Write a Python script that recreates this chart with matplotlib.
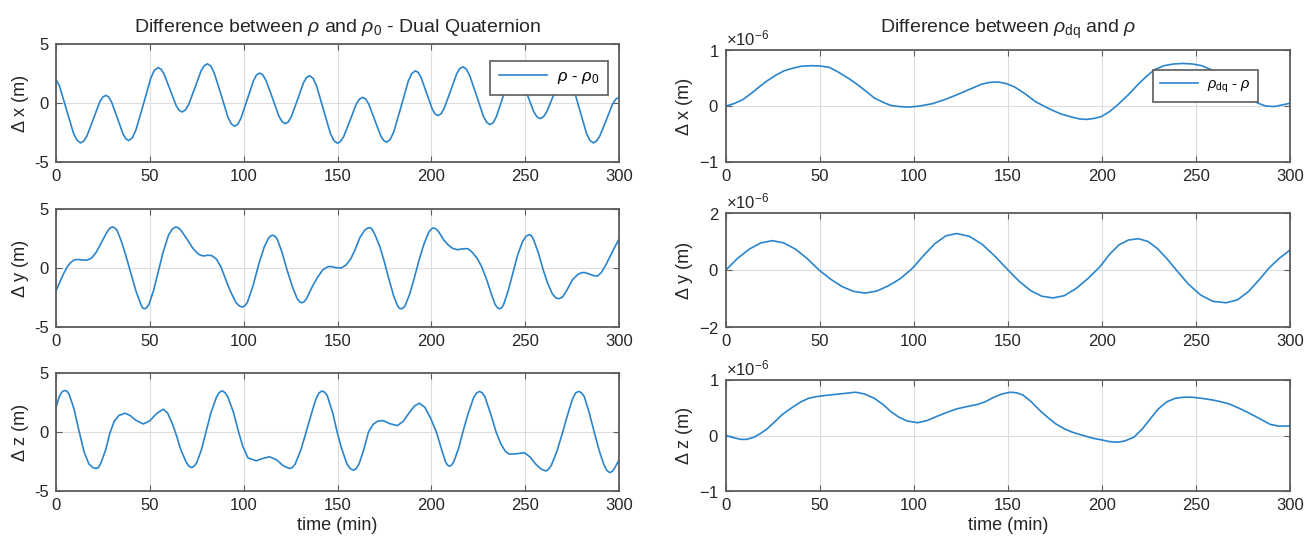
import matplotlib
matplotlib.use("Agg")
import matplotlib.pyplot as plt
import numpy as np
from matplotlib.ticker import ScalarFormatter

plt.rcParams.update({
    "font.family": ["Liberation Sans", "DejaVu Sans"],
    "mathtext.fontset": "custom",
    "mathtext.rm": "Liberation Sans",
    "mathtext.it": "Liberation Sans:italic",
    "axes.unicode_minus": False,
})

# ---- left column: rho - rho0 (m), (time min, value) ----
DX_PTS = [(0, 2.0), (1.8, 1.47), (5.5, -0.5), (9.3, -2.55), (11.2, -3.16), (13.1, -3.38), (14.8, -3.23),
          (16.5, -2.79), (19.9, -1.37), (23.2, 0.06), (24.9, 0.50), (26.6, 0.65), (28.1, 0.50), (29.6, 0.09),
          (32.7, -1.27), (35.7, -2.62), (37.2, -3.03), (38.7, -3.18), (40.7, -2.95), (42.6, -2.28),
          (46.6, -0.09), (50.5, 2.10), (52.4, 2.77), (54.4, 3.0), (56.0, 2.86), (57.6, 2.45), (60.8, 1.12),
          (64.0, -0.21), (65.6, -0.62), (67.2, -0.76), (68.9, -0.6), (70.6, -0.16), (74.0, 1.28), (77.3, 2.72),
          (79.0, 3.16), (80.7, 3.32), (82.5, 3.12), (84.3, 2.55), (88.0, 0.68), (91.6, -1.2), (93.4, -1.77),
          (95.2, -1.97), (96.9, -1.8), (98.5, -1.31), (101.9, 0.29), (105.2, 1.88), (106.8, 2.37),
          (108.5, 2.54), (110.2, 2.38), (111.9, 1.91), (115.4, 0.40), (118.8, -1.12), (120.5, -1.59),
          (122.2, -1.75), (123.8, -1.6), (125.4, -1.16), (128.7, 0.28), (131.9, 1.72), (133.5, 2.16),
          (135.1, 2.31), (137.0, 2.09), (138.8, 1.47), (142.5, -0.55), (146.2, -2.57), (148.1, -3.19),
          (149.9, -3.41), (151.6, -3.26), (153.3, -2.84), (156.7, -1.47), (160.0, -0.09), (161.7, 0.33),
          (163.4, 0.48), (165.0, 0.34), (166.6, -0.07), (169.8, -1.42), (173.0, -2.77), (174.6, -3.18),
          (176.2, -3.32), (178.1, -3.09), (180.0, -2.44), (183.9, -0.30), (187.7, 1.85), (189.6, 2.5),
          (191.5, 2.73), (193.0, 2.59), (194.5, 2.18), (197.5, 0.83), (200.5, -0.52), (202.0, -0.93),
          (203.5, -1.07), (205.2, -0.91), (206.8, -0.47), (210.2, 1.0), (213.5, 2.47), (215.1, 2.91),
          (216.8, 3.07), (218.6, 2.88), (220.4, 2.35), (224.1, 0.62), (227.7, -1.11), (229.5, -1.64),
          (231.3, -1.83), (233.0, -1.66), (234.6, -1.18), (237.9, 0.39), (241.2, 1.95), (242.9, 2.43),
          (244.5, 2.6), (246.2, 2.45), (247.9, 2.03), (251.3, 0.64), (254.6, -0.75), (256.3, -1.17),
          (258.0, -1.32), (259.7, -1.18), (261.4, -0.78), (264.8, 0.54), (268.1, 1.86), (269.8, 2.26),
          (271.5, 2.4), (273.4, 2.18), (275.2, 1.56), (278.9, -0.49), (282.6, -2.54), (284.5, -3.16),
          (286.3, -3.38), (288.0, -3.23), (289.7, -2.82), (293.2, -1.45), (296.6, -0.08), (298.3, 0.33),
          (300, 0.48)]

DY_PTS = [(0, -1.95), (2, -1.2), (4, -0.5), (6, 0.1), (8, 0.5), (10, 0.7), (12, 0.72), (14, 0.68), (16.5, 0.66),
          (19, 0.85), (21.5, 1.35), (24.3, 2.2), (27, 3.0), (28.5, 3.35), (30, 3.48), (31.3, 3.4), (32.5, 3.2),
          (35, 2.2), (37.5, 0.9), (40, -0.5), (42.5, -1.9), (45, -3.0), (46, -3.35), (47, -3.46), (48.2, -3.38),
          (49.5, -3.1), (52, -1.9), (54.5, -0.3), (57, 1.3), (60, 2.8), (62, 3.3), (63.8, 3.48), (65.5, 3.38),
          (67, 3.1), (70, 2.4), (73, 1.65), (76, 1.15), (78.5, 1.02), (81, 1.08), (83, 1.05), (85.5, 0.75),
          (88, 0.05), (90.5, -1.0), (93, -2.0), (96, -2.95), (97.7, -3.22), (99.3, -3.31), (100.7, -3.2),
          (102, -2.9), (105, -1.5), (108, 0.3), (111, 1.8), (113.5, 2.6), (114.6, 2.73), (115.6, 2.78),
          (116.8, 2.67), (118, 2.4), (120.5, 1.3), (123, -0.1), (126, -1.6), (128.5, -2.6), (129.8, -2.86),
          (131, -2.95), (132.2, -2.86), (133.5, -2.6), (136.5, -1.6), (139.5, -0.75), (142.2, -0.15),
          (145, 0.12), (147, 0.12), (149, 0.03), (152, 0.0), (154.5, 0.25), (157, 0.75), (159.5, 1.6),
          (162, 2.6), (164.5, 3.2), (166, 3.38), (167.3, 3.43), (168.6, 3.25), (170, 2.8), (172.6, 1.8),
          (175, 0.5), (177.5, -1.0), (180, -2.4), (182, -3.2), (182.9, -3.4), (183.8, -3.46), (184.9, -3.4),
          (186, -3.2), (188.5, -2.2), (191, -0.8), (193.5, 0.7), (196, 2.0), (198.5, 3.0), (199.9, 3.3),
          (201.2, 3.4), (202.6, 3.3), (204, 3.05), (206.5, 2.4), (209, 1.95), (211.5, 1.65), (214, 1.55),
          (216.5, 1.62), (219.5, 1.64), (222, 1.3), (224.5, 0.8), (227, 0.05), (229.5, -1.0), (232, -2.2),
          (234, -3.1), (235.2, -3.36), (236.4, -3.46), (237.5, -3.37), (238.5, -3.1), (241, -1.9),
          (243.5, -0.4), (246, 1.1), (248.5, 2.2), (250.5, 2.7), (252.3, 2.83), (253.4, 2.72), (254.5, 2.4),
          (257, 1.3), (259.5, -0.1), (262, -1.3), (264.5, -2.2), (266.5, -2.55), (268.1, -2.6), (270, -2.45),
          (272.5, -1.8), (275.2, -1.0), (278, -0.55), (280, -0.4), (281.5, -0.38), (284, -0.5), (286.5, -0.65),
          (288.5, -0.68), (290.5, -0.4), (292.9, 0.23), (295, 0.9), (297.5, 1.7), (300, 2.44)]

DZ_PTS = [(0, 2.1), (2, 3.1), (3.4, 3.43), (4.8, 3.52), (5.9, 3.45), (7, 3.2), (9.5, 2.0), (12.4, 0.0),
          (15, -1.7), (17.5, -2.7), (19.5, -3.0), (21.3, -3.1), (22.7, -3.0), (24, -2.6), (26.5, -1.5),
          (28.7, -0.1), (31, 0.9), (33.5, 1.4), (36.7, 1.59), (39.5, 1.4), (42.5, 1.0), (46.5, 0.68), (50, 0.95),
          (53.5, 1.55), (57.1, 1.93), (59.5, 1.6), (62, 0.7), (64.2, -0.3), (66.5, -1.5), (69.5, -2.6),
          (70.9, -2.9), (72.2, -3.01), (73.6, -2.9), (75, -2.6), (77.5, -1.5), (80.1, 0.1), (82.5, 1.6),
          (85.5, 2.95), (87, 3.35), (88.5, 3.49), (90, 3.35), (91.5, 3.0), (94.5, 1.7), (97.3, 0.0),
          (99.5, -1.2), (102.3, -2.2), (106.7, -2.44), (110, -2.25), (113.8, -2.1), (117.5, -2.35),
          (121, -2.85), (124.5, -3.1), (126, -3.0), (127.5, -2.7), (130.5, -1.5), (133.3, 0.0), (136, 1.5),
          (138.5, 2.8), (140.1, 3.3), (141.7, 3.47), (143.1, 3.38), (144.5, 3.1), (147.5, 1.6), (149.8, 0.0),
          (152, -1.3), (155, -2.7), (156.8, -3.1), (158.5, -3.24), (160, -3.1), (161.5, -2.7), (164, -1.5),
          (166.5, 0.0), (169, 0.65), (171.5, 0.92), (174.2, 0.97), (178, 0.7), (181.9, 0.54), (185, 0.9),
          (188.5, 1.7), (191, 2.2), (193.6, 2.44), (196.5, 2.1), (199.5, 1.2), (202.7, 0.0), (205.5, -1.5),
          (207.5, -2.5), (208.6, -2.8), (209.7, -2.9), (210.8, -2.8), (212, -2.5), (214.5, -1.4), (216.8, 0.0),
          (219.5, 1.5), (222.5, 2.9), (224.1, 3.3), (225.7, 3.44), (227.1, 3.32), (228.5, 3.0), (231.5, 1.6),
          (234.5, 0.0), (237, -1.0), (239.5, -1.65), (241.6, -1.88), (245, -1.85), (249.6, -1.76),
          (252.5, -2.1), (255.5, -2.7), (258.5, -3.15), (261.1, -3.3), (262.5, -3.15), (264, -2.8),
          (267, -1.6), (270, 0.0), (272.5, 1.4), (275, 2.7), (276.8, 3.3), (278.5, 3.44), (280, 3.33),
          (281.5, 3.0), (284, 1.7), (286.8, 0.0), (289.5, -1.6), (292, -2.8), (293.5, -3.25), (295.1, -3.44),
          (296.3, -3.35), (297.5, -3.1), (300, -2.39)]

# ---- right column: rho_dq - rho, values in units of 1e-6 m ----
SCALE = 1e-6
RX_PTS = [(0, 0.0), (4, 0.04), (8.8, 0.11), (14, 0.24), (18, 0.35), (21.9, 0.45), (27, 0.56), (31, 0.63),
          (35, 0.67), (40, 0.71), (45, 0.72), (50, 0.715), (55, 0.69), (60, 0.6), (65.8, 0.48), (70, 0.38),
          (75, 0.25), (79, 0.14), (84, 0.06), (87.7, 0.01), (92, -0.01), (97.6, -0.02), (103, 0.0),
          (109.6, 0.04), (116, 0.11), (122.8, 0.2), (129, 0.29), (136, 0.39), (140, 0.42), (144.7, 0.43),
          (149, 0.4), (153.5, 0.34), (159, 0.22), (164.5, 0.08), (169, 0.0), (173.2, -0.07), (178, -0.14),
          (184.2, -0.2), (188, -0.23), (191.9, -0.24), (196, -0.22), (199.6, -0.19), (204, -0.1), (208.3, 0.02),
          (214, 0.2), (219.3, 0.39), (224, 0.54), (228, 0.65), (233, 0.72), (238, 0.75), (243, 0.76),
          (248, 0.75), (253, 0.72), (258, 0.65), (263, 0.55), (268, 0.42), (273, 0.28), (278, 0.15),
          (283, 0.05), (287, 0.0), (291.7, -0.01), (296, 0.02), (300, 0.05)]

RY_PTS = [(0, 0.0), (6, 0.4), (12.3, 0.73), (18.5, 0.95), (24.6, 1.03), (30.8, 0.95), (37, 0.73), (43.2, 0.4),
          (49.5, 0.0), (55.6, -0.32), (61.7, -0.58), (67.8, -0.75), (73.9, -0.81), (80.2, -0.74), (86.5, -0.55),
          (92.8, -0.3), (99, 0.05), (105, 0.5), (111, 0.92), (117, 1.2), (122.8, 1.28), (129.5, 1.18),
          (136.3, 0.9), (143.1, 0.48), (150, 0.0), (156, -0.4), (162, -0.72), (168, -0.92), (174, -0.98),
          (180, -0.9), (186.2, -0.65), (192.5, -0.3), (199, 0.12), (204, 0.55), (209, 0.88), (214, 1.05),
          (219.3, 1.1), (224.5, 1.0), (229.5, 0.75), (234.5, 0.4), (239.5, 0.0), (246, -0.5), (252.5, -0.88),
          (259, -1.1), (266, -1.15), (272, -1.05), (278, -0.75), (283.5, -0.35), (289, 0.08), (294.5, 0.42),
          (300, 0.7)]

RZ_PTS = [(0, 0.0), (4, -0.04), (8, -0.07), (11, -0.07), (15, -0.03), (18.5, 0.04), (21.9, 0.12), (26, 0.25),
          (30, 0.38), (35, 0.5), (39.5, 0.6), (43.9, 0.67), (48, 0.7), (52.6, 0.72), (58, 0.74), (63.6, 0.76),
          (69, 0.78), (73.5, 0.75), (78.9, 0.67), (83.5, 0.56), (87.7, 0.43), (92, 0.33), (96.5, 0.26),
          (102, 0.23), (107, 0.27), (111.8, 0.34), (117, 0.41), (122.8, 0.48), (128, 0.52), (133.8, 0.56),
          (138, 0.61), (142.5, 0.69), (147, 0.75), (151.3, 0.78), (154.5, 0.77), (157.9, 0.73), (162, 0.62),
          (166.7, 0.46), (171, 0.33), (175.4, 0.21), (180, 0.12), (184.2, 0.06), (190, 0.0), (195.2, -0.05),
          (200, -0.08), (204, -0.11), (208.3, -0.12), (212, -0.1), (217, -0.03), (221.5, 0.12), (225.9, 0.31),
          (230, 0.48), (234.6, 0.61), (239, 0.67), (243.5, 0.69), (247.8, 0.69), (253, 0.67), (258.8, 0.64),
          (263, 0.61), (267.5, 0.57), (273, 0.49), (278.5, 0.4), (284, 0.3), (289.5, 0.2), (293.9, 0.17),
          (297, 0.17), (300, 0.17)]

LINE = "#2a84cc"
FRAME = "#5c5c5c"
TXT = "#262626"
FS = 12


def style(ax, lim, ticks, ylab, xlab=False):
    ax.set_xlim(0, 300)
    ax.set_xticks(range(0, 301, 50))
    ax.set_ylim(*lim)
    ax.set_yticks(ticks)
    ax.grid(True, color="#dddddd", lw=0.8)
    ax.set_axisbelow(True)
    for s in ax.spines.values():
        s.set_color(FRAME); s.set_linewidth(1.3)
    ax.tick_params(direction="in", top=True, right=True, length=4, width=0.8, color=FRAME,
                   labelsize=FS, labelcolor=TXT, pad=5)
    ax.set_ylabel(ylab, fontsize=13, color=TXT)
    if xlab:
        ax.set_xlabel("time (min)", fontsize=13, color=TXT, labelpad=3)


fig = plt.figure(figsize=(13.06, 5.41), dpi=100)
lx, lw_ = 56 / 1306, 563 / 1306
rx, rw = 726 / 1306, 564 / 1306
H = 541
left = [fig.add_axes([lx, 1 - b / H, lw_, (b - t) / H]) for t, b in [(44, 162), (209, 327), (373, 491)]]
right = [fig.add_axes([rx, 1 - b / H, rw, (b - t) / H]) for t, b in [(50, 162), (213, 327), (380, 491)]]

for ax, pts, lab in zip(left, [DX_PTS, DY_PTS, DZ_PTS], ["x", "y", "z"]):
    t, v = zip(*pts)
    ax.plot(t, v, color=LINE, lw=1.2, label=r"$\rho$ - $\rho_0$")
    style(ax, (-5, 5), [-5, 0, 5], f"Δ {lab} (m)", xlab=(lab == "z"))

for ax, pts, lab, lim in zip(right, [RX_PTS, RY_PTS, RZ_PTS], ["x", "y", "z"], [1, 2, 1]):
    t, v = zip(*pts)
    ax.plot(t, np.array(v) * SCALE, color=LINE, lw=1.2, label=r"$\rho_{\mathrm{dq}}$ - $\rho$")
    style(ax, (-lim * SCALE, lim * SCALE), [-lim * SCALE, 0, lim * SCALE], f"Δ {lab} (m)", xlab=(lab == "z"))
    fmt = ScalarFormatter(useMathText=True)
    fmt.set_powerlimits((-3, 3))
    ax.yaxis.set_major_formatter(fmt)
    ax.yaxis.get_offset_text().set_fontsize(12)
    ax.yaxis.get_offset_text().set_color(TXT)

left[0].set_title(r"Difference between $\rho$ and $\rho_0$ - Dual Quaternion", fontsize=14, color=TXT, pad=9)
right[0].set_title(r"Difference between $\rho_{\mathrm{dq}}$ and $\rho$", fontsize=14, color=TXT, pad=12)

for ax, anchor, fs, hl in [(left[0], (0.98, 0.856), 12, 2.9), (right[0], (0.943, 0.82), 10.5, 2.6)]:
    leg = ax.legend(loc="upper right", bbox_to_anchor=anchor, borderaxespad=0, fontsize=fs,
                    handlelength=hl, borderpad=0.5, handletextpad=0.6, fancybox=False, framealpha=1,
                    edgecolor=FRAME)
    leg.get_frame().set_linewidth(1.2)

fig.savefig("out.png", dpi=100, facecolor="white")
